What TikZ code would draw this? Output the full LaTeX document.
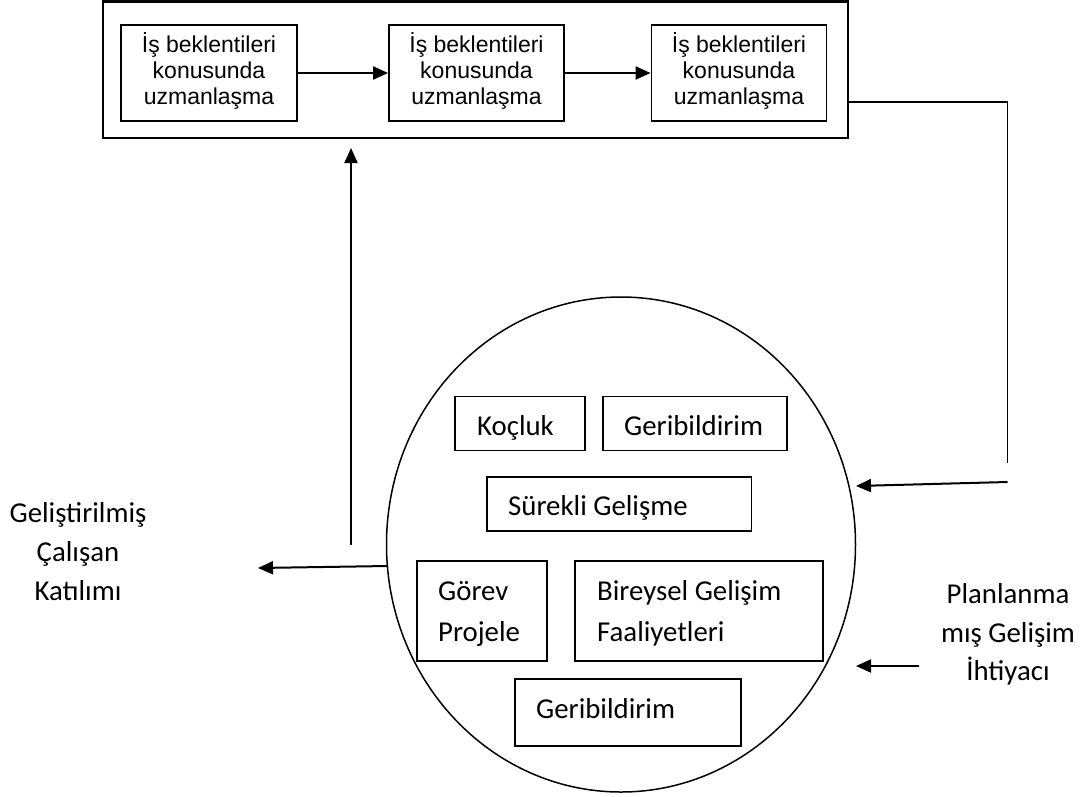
\documentclass[tikz,border=0pt]{standalone}
\usepackage{fontspec}
\usetikzlibrary{arrows.meta,shapes.geometric}
\newfontfamily\carlitofont{Carlito}
\newfontfamily\arialfont{Liberation Sans}
\begin{document}
\begin{tikzpicture}[x=1pt,y=-1pt,
  outerbox/.style={draw,line width=2.2pt,inner sep=0pt},
  stagebox/.style={draw,line width=1.8pt,inner sep=0pt},
  stagetext/.style={anchor=base,inner sep=0pt,font=\arialfont\fontsize{23}{26}\selectfont},
  toolbox/.style={draw,line width=1.3pt,inner sep=0pt},
  tooltext/.style={anchor=base west,inner sep=0pt,font=\carlitofont\fontsize{28.8}{34}\selectfont},
  sidetext/.style={anchor=base,inner sep=0pt,font=\carlitofont\fontsize{28.8}{34}\selectfont},
  arr/.style={line width=2pt,-{Triangle[length=15pt,width=13pt]}},
  thinline/.style={line width=1.5pt}
]
\useasboundingbox (0,0) rectangle (1088,796);

% Top frame with the three stages
\node[outerbox,minimum width=745pt,minimum height=136.5pt] (frame) at (475.5,69.75) {};
\node[stagebox,minimum width=176pt,minimum height=96pt] (s1) at (209,73) {};
\node[stagebox,minimum width=175pt,minimum height=96pt] (s2) at (476.5,73) {};
\node[stagebox,minimum width=175pt,minimum height=96pt] (s3) at (739,73) {};
\foreach \n/\cx in {a/209,b/476.5,c/739}{
  \node[stagetext] (\n1) at (\cx,52) {İş beklentileri};
  \node[stagetext] (\n2) at (\cx,78) {konusunda};
  \node[stagetext] (\n3) at (\cx,104) {uzmanlaşma};
}
\draw[arr] (s1.east) -- (s2.west);
\draw[arr] (s2.east) -- (s3.west);

% Development circle with its activities
\node[draw,ellipse,line width=1.5pt,inner sep=0pt,minimum width=469pt,minimum height=495pt] (circ) at (621,544.5) {};

\node[toolbox,minimum width=130pt,minimum height=54pt] (koc) at (520,423.5) {};
\node[tooltext] (kocT) at (477,435) {Koçluk};
\node[toolbox,minimum width=184pt,minimum height=54pt] (geri1) at (695,423.5) {};
\node[tooltext] (geri1T) at (624,435) {Geribildirim};
\node[toolbox,minimum width=264.5pt,minimum height=54pt] (surekli) at (619.25,504) {};
\node[tooltext] (surekliT) at (508,515) {Sürekli Gelişme};
\node[toolbox,minimum width=130pt,minimum height=100pt] (gorev) at (482,611) {};
\node[tooltext] (gorevT1) at (438,600) {Görev};
\node[tooltext] (gorevT2) at (438,641) {Projele};
\node[toolbox,minimum width=248pt,minimum height=100pt] (bireysel) at (699,611) {};
\node[tooltext] (bireyselT1) at (597,600) {Bireysel Gelişim};
\node[tooltext] (bireyselT2) at (597,641) {Faaliyetleri};
\node[toolbox,minimum width=226pt,minimum height=67pt] (geri2) at (628,712.5) {};
\node[tooltext] (geri2T) at (536,718) {Geribildirim};

% Side labels
\node[sidetext] (outL1) at (78,522) {Geliştirilmiş};
\node[sidetext] (outL2) at (78,561) {Çalışan};
\node[sidetext] (outL3) at (78,600) {Katılımı};
\node[sidetext] (inR1) at (1008,603) {Planlanma};
\node[sidetext] (inR2) at (1008,642) {mış Gelişim};
\node[sidetext] (inR3) at (1008,680) {İhtiyacı};

% Connector end points
\coordinate (fbtop) at (1007.5,102);
\coordinate (fbend) at (1007.5,463);
\coordinate (fbstart) at (1007.5,482);
\coordinate (fbtip) at (856,486);
\coordinate (pstart) at (919,666);
\coordinate (ptip) at (856,666);
\coordinate (lstart) at (388,566);
\coordinate (ltip) at (258,568);
\coordinate (ustart) at (351,545);
\coordinate (utip) at (351,148);

% Connectors
\draw[thinline] (frame.east |- fbtop) -- (fbtop) -- (fbend);
\draw[arr] (fbstart) -- (fbtip);
\draw[arr] (pstart) -- (ptip);
\draw[arr] (lstart) -- (ltip);
\draw[arr] (ustart) -- (utip);
\end{tikzpicture}
\end{document}
